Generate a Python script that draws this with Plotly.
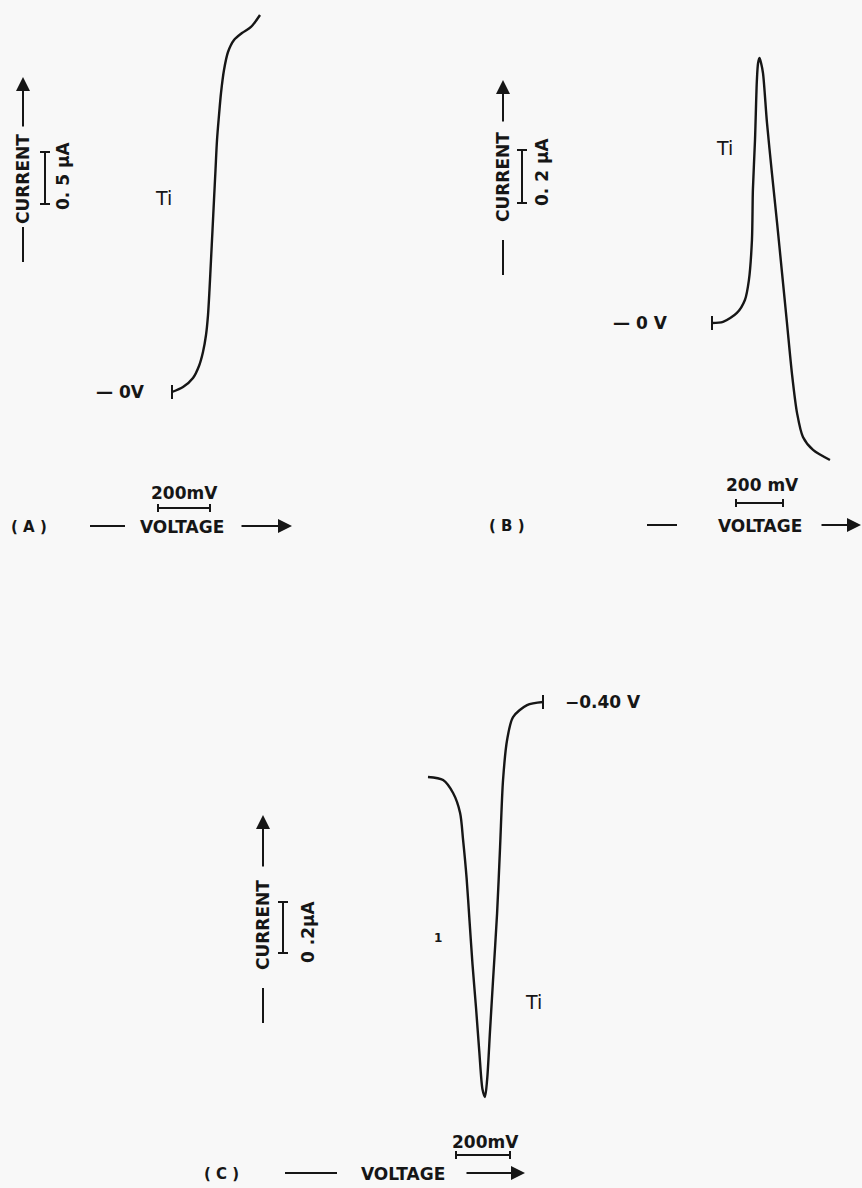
import plotly.graph_objects as go

# ---------------- data ----------------
# Panel A: current-voltage curve, voltage relative to 0 V start (mV), current (uA)
A_voltage_mV = [0, 42.3, 80.8, 103.8, 119.2, 130.8, 138.5, 144.2, 150.0, 155.8, 161.5, 167.3, 173.1, 180.8,
                188.5, 200.0, 215.4, 238.5, 269.2, 303.8, 338.5]
A_current_uA = [0, 0.048, 0.135, 0.250, 0.385, 0.548, 0.740, 0.981, 1.269, 1.558, 1.846, 2.135, 2.423, 2.663,
                2.875, 3.096, 3.269, 3.385, 3.452, 3.510, 3.625]

# Panel B: peak-shaped curve
B_voltage_mV = [0, 47, 106, 140, 157, 170, 174, 183, 191, 196, 202, 209, 217, 234, 255, 277, 298, 319, 340, 362, 387, 430, 502]
B_current_uA = [0, 0.004, 0.038, 0.087, 0.162, 0.313, 0.502, 0.691, 0.917, 0.98, 1.0, 0.98, 0.943, 0.755, 0.566,
                0.377, 0.189, 0, -0.189, -0.340, -0.430, -0.479, -0.517]

# Panel C: inverted peak, voltage relative to the -0.40 V mark (mV)
C_voltage_mV = [-426, -370, -333, -307, -296, -283, -272, -261, -248, -236, -224, -215, -207, -196, -185, -170,
                -159, -148, -133, -111, -59, 0]
C_current_uA = [-0.294, -0.306, -0.357, -0.435, -0.541, -0.690, -0.860, -1.030, -1.200, -1.370, -1.520, -1.549,
                -1.482, -1.286, -1.090, -0.828, -0.569, -0.306, -0.149, -0.059, -0.012, 0]

panel_labels = ["( A )", "( B )", "( C )"]
start_labels = ["— 0V", "— 0 V", "−0.40 V"]
voltage_scale_mV = [200, 200, 200]
current_scale_uA = [0.5, 0.2, 0.2]
voltage_scale_text = ["200mV", "200 mV", "200mV"]
current_scale_text = ["0. 5 µA", "0. 2 µA", "0 .2µA"]

# ---------------- layout geometry ----------------
W, H = 862, 1188
BG = "#f8f8f8"
INK = "#161616"

panels = [
    dict(box=(0, 431, 0, 560), origin=(172, 392), mvpx=200 / 52, uapx=0.5 / 52,
         x=A_voltage_mV, y=A_current_uA),
    dict(box=(431, 862, 0, 560), origin=(712, 323), mvpx=200 / 47, uapx=0.2 / 53,
         x=B_voltage_mV, y=B_current_uA),
    dict(box=(0, 862, 600, 1188), origin=(543, 702), mvpx=200 / 54, uapx=0.2 / 51,
         x=C_voltage_mV, y=C_current_uA),
]

fig = go.Figure()
layout_axes = {}
shapes = []
annotations = []


def to_data(p, px, py):
    ox, oy = p["origin"]
    return (px - ox) * p["mvpx"], (oy - py) * p["uapx"]


for i, p in enumerate(panels):
    n = "" if i == 0 else str(i + 1)
    px0, px1, py0, py1 = p["box"]
    ox, oy = p["origin"]
    xr = [(px0 - ox) * p["mvpx"], (px1 - ox) * p["mvpx"]]
    yr = [(oy - py1) * p["uapx"], (oy - py0) * p["uapx"]]
    layout_axes["xaxis" + n] = dict(domain=[px0 / W, px1 / W], range=xr, visible=False,
                                    anchor="y" + n, fixedrange=True)
    layout_axes["yaxis" + n] = dict(domain=[1 - py1 / H, 1 - py0 / H], range=yr, visible=False,
                                    anchor="x" + n, fixedrange=True)
    fig.add_trace(go.Scatter(x=p["x"], y=p["y"], mode="lines", xaxis="x" + n, yaxis="y" + n,
                             line=dict(color=INK, width=2.4, shape="spline", smoothing=0.8),
                             hoverinfo="skip", showlegend=False))
    # start tick at the data origin
    t = 7 * p["uapx"]
    shapes.append(dict(type="line", xref="x" + n, yref="y" + n, x0=0, x1=0, y0=-t, y1=t,
                       line=dict(color=INK, width=2)))

# scale bars (placed in px, length from data scale)
vbar_pos = [(158, 508), (736, 503), (456, 1155)]
ibar_pos = [(45, 204), (522, 203), (283, 953)]
for i, p in enumerate(panels):
    n = "" if i == 0 else str(i + 1)
    vx, vy = to_data(p, *vbar_pos[i])
    tick = 4 * p["uapx"]
    vlen = voltage_scale_mV[i]
    shapes.append(dict(type="line", xref="x" + n, yref="y" + n, x0=vx, x1=vx + vlen, y0=vy, y1=vy,
                       line=dict(color=INK, width=2)))
    for xx in (vx, vx + vlen):
        shapes.append(dict(type="line", xref="x" + n, yref="y" + n, x0=xx, x1=xx, y0=vy - tick,
                           y1=vy + tick, line=dict(color=INK, width=2)))
    ix, iy = to_data(p, *ibar_pos[i])
    cap = 5 * p["mvpx"]
    ilen = current_scale_uA[i]
    shapes.append(dict(type="line", xref="x" + n, yref="y" + n, x0=ix, x1=ix, y0=iy, y1=iy + ilen,
                       line=dict(color=INK, width=2)))
    for yy in (iy, iy + ilen):
        shapes.append(dict(type="line", xref="x" + n, yref="y" + n, x0=ix - cap, x1=ix + cap, y0=yy,
                           y1=yy, line=dict(color=INK, width=2)))


def pline(x0, y0, x1, y1, w=2):
    shapes.append(dict(type="line", xref="paper", yref="paper", x0=x0 / W, x1=x1 / W,
                       y0=1 - y0 / H, y1=1 - y1 / H, line=dict(color=INK, width=w)))


def txt(px, py, s, size=17, angle=0, bold=True, family="DejaVu Sans"):
    annotations.append(dict(x=px / W, y=1 - py / H, xref="paper", yref="paper",
                            text=("<b>%s</b>" % s) if bold else s,
                            showarrow=False, textangle=angle, xanchor="center", yanchor="middle",
                            font=dict(family=family, size=size, color=INK)))


def arrow(tipx, tipy, tailx, taily):
    annotations.append(dict(x=tipx / W, y=1 - tipy / H, xref="paper", yref="paper", text="",
                            showarrow=True, ax=tailx - tipx, ay=taily - tipy, arrowhead=2,
                            arrowsize=1.4, arrowwidth=2, arrowcolor=INK, standoff=0))


# current axis labels with arrows
current_cols = [(23, 77, 128, 179, 227, 262), (503, 80, 123, 177, 240, 275), (263, 815, 868, 925, 988, 1023)]
for (cx, tip, tail, tc, b0, b1) in current_cols:
    arrow(cx, tip, cx, tail)
    txt(cx, tc, "CURRENT", size=17, angle=-90)
    pline(cx, b0, cx, b1)

# current scale texts
txt(63, 176, current_scale_text[0], size=17, angle=-90)
txt(542, 172, current_scale_text[1], size=17, angle=-90)
txt(308, 932, current_scale_text[2], size=17, angle=-90)

# voltage scale texts
txt(184, 493, voltage_scale_text[0], size=17)
txt(762, 485, voltage_scale_text[1], size=17)
txt(486, 1142, voltage_scale_text[2], size=17)

# voltage rows
vrows = [
    (29, 527, 90, 125, 182, 240, 292),
    (507, 526, 647, 677, 760, 820, 862),
    (221, 1174, 285, 337, 403, 465, 525),
]
for i, (lx, ry, d0, d1, vc, a0, a1) in enumerate(vrows):
    txt(lx, ry, panel_labels[i], size=15)
    pline(d0, ry - 1, d1, ry - 1)
    txt(vc, ry, "VOLTAGE", size=17)
    arrow(a1, ry - 1, a0, ry - 1)

# start-potential labels
txt(120, 392, start_labels[0], size=17)
txt(640, 323, start_labels[1], size=17)
txt(603, 702, start_labels[2], size=17)

# element labels
txt(163, 198, "Ti", size=19, bold=False)
txt(724, 148, "Ti", size=19, bold=False)
txt(533, 1002, "Ti", size=19, bold=False)
txt(438, 938, "1", size=12)

fig.update_layout(width=W, height=H, margin=dict(l=0, r=0, t=0, b=0),
                  paper_bgcolor=BG, plot_bgcolor=BG, showlegend=False,
                  shapes=shapes, annotations=annotations, **layout_axes)

fig.write_html("out.html", config={"displayModeBar": False},
               post_script="document.body.style.margin='0';document.body.style.background='%s';" % BG)
